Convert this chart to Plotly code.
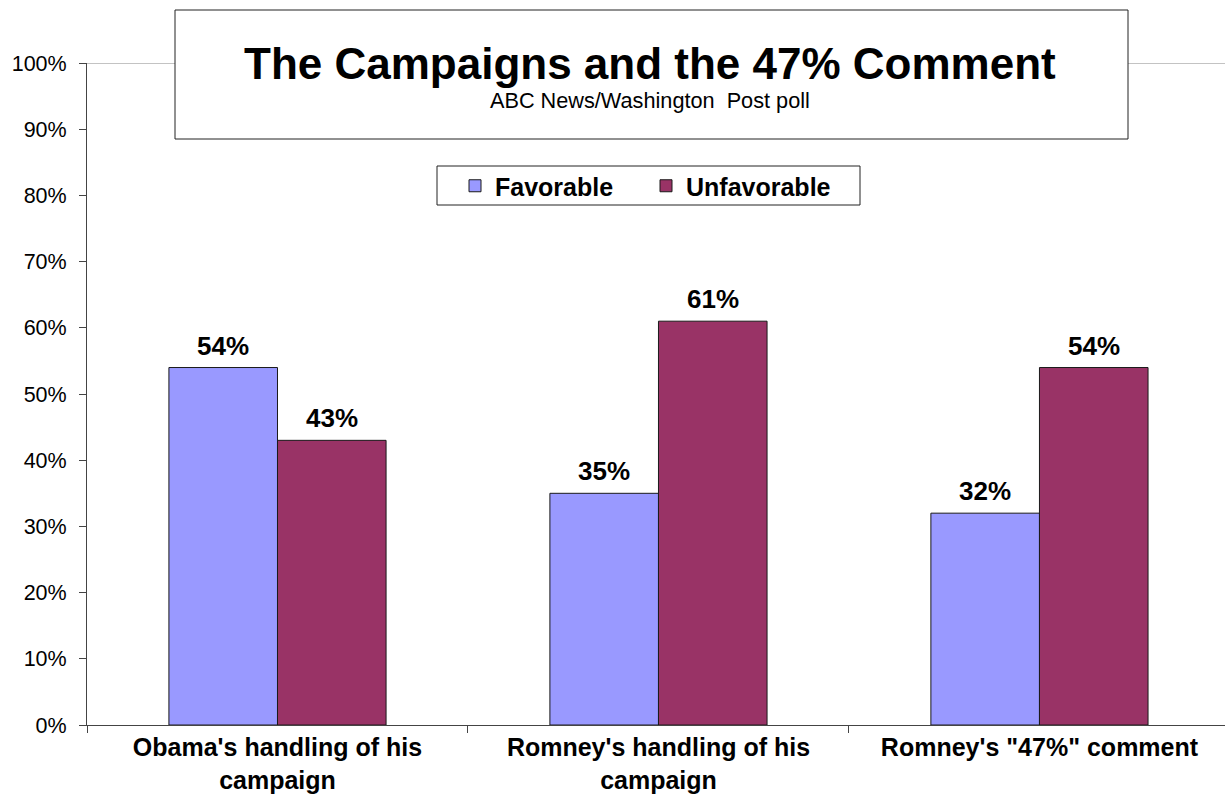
import plotly.graph_objects as go

categories = ["Obama's handling of his<br>campaign",
              "Romney's handling of his<br>campaign",
              "Romney's \"47%\" comment"]
favorable = [54, 35, 32]
unfavorable = [43, 61, 54]
series_names = ["Favorable", "Unfavorable"]
y_ticks = list(range(0, 101, 10))

FONT = "Liberation Sans, Arial, sans-serif"
W, H = 1225, 796
ML, MR, MT, MB = 87, 0, 63, 71
BARGAP = 0.43

def px_x(px):
    return (px - ML) / (W - ML - MR)

def px_y(py):
    return (H - MB - py) / (H - MT - MB)

series = [(series_names[0], favorable, "#9999FF"),
          (series_names[1], unfavorable, "#993366")]

fig = go.Figure()
for name, vals, color in series:
    fig.add_trace(go.Bar(
        x=categories, y=vals, name=name,
        marker=dict(color=color, line=dict(color="#1a1a1a", width=1)),
        cliponaxis=False,
    ))

# value labels above bars
bar_w = (1 - BARGAP) / len(series)
annotations = []
for j, (name, vals, color) in enumerate(series):
    off = (j - (len(series) - 1) / 2) * bar_w
    for i, v in enumerate(vals):
        annotations.append(dict(
            x=i + off, y=v, xref="x", yref="y", text=f"{v}%",
            showarrow=False, xanchor="center", yanchor="bottom", yshift=5,
            font=dict(family=FONT, size=26, color="black", weight="bold")))

annotations += [
    dict(text="The Campaigns and the 47% Comment", xref="paper", yref="paper",
         x=px_x(650), y=px_y(63), xanchor="center", yanchor="middle",
         showarrow=False,
         font=dict(family=FONT, size=44, color="black", weight="bold")),
    dict(text="ABC News/Washington\u00a0 Post poll", xref="paper", yref="paper",
         x=px_x(650), y=px_y(101), xanchor="center", yanchor="middle",
         showarrow=False,
         font=dict(family=FONT, size=21.7, color="black")),
]

fig.update_layout(
    width=W, height=H,
    margin=dict(l=ML, r=MR, t=MT, b=MB, pad=0),
    paper_bgcolor="white", plot_bgcolor="white",
    barmode="group", bargap=BARGAP, bargroupgap=0,
    showlegend=True,
    legend=dict(
        orientation="h", x=px_x(455), xanchor="left",
        y=px_y(186), yanchor="middle",
        font=dict(family=FONT, size=25, color="black", weight="bold"),
        borderwidth=0, bgcolor="rgba(0,0,0,0)",
        itemwidth=30, itemclick=False, entrywidth=146,
    ),
    xaxis=dict(
        range=[-0.5, 2.487], showgrid=False,
        showline=True, linecolor="#444444", linewidth=1,
        ticks="outside", tickson="boundaries", ticklen=7, tickcolor="#444444",
        tickfont=dict(family=FONT, size=25, color="black", weight="bold"),
        ticklabelstandoff=0,
        automargin=False,
    ),
    yaxis=dict(
        range=[0, 100], tickvals=y_ticks,
        ticktext=[f"{t}%" for t in y_ticks],
        showgrid=False, zeroline=False,
        showline=True, linecolor="#444444", linewidth=1,
        ticks="outside", ticklen=7, tickcolor="#444444",
        tickfont=dict(family=FONT, size=21.5, color="black"),
        ticklabelstandoff=8,
        automargin=False,
    ),
    shapes=[
        dict(type="line", xref="paper", yref="y", x0=0, x1=1, y0=100, y1=100,
             line=dict(color="#888888", width=1), layer="below"),
        dict(type="rect", xref="paper", yref="paper",
             x0=px_x(175), x1=px_x(1128), y0=px_y(139), y1=px_y(10),
             fillcolor="white", line=dict(color="#222222", width=1), layer="below"),
        dict(type="rect", xref="paper", yref="paper",
             x0=px_x(437), x1=px_x(860), y0=px_y(205), y1=px_y(166),
             fillcolor="white", line=dict(color="#222222", width=1), layer="below"),
    ],
    annotations=annotations,
)

fig.write_html("out.html")
